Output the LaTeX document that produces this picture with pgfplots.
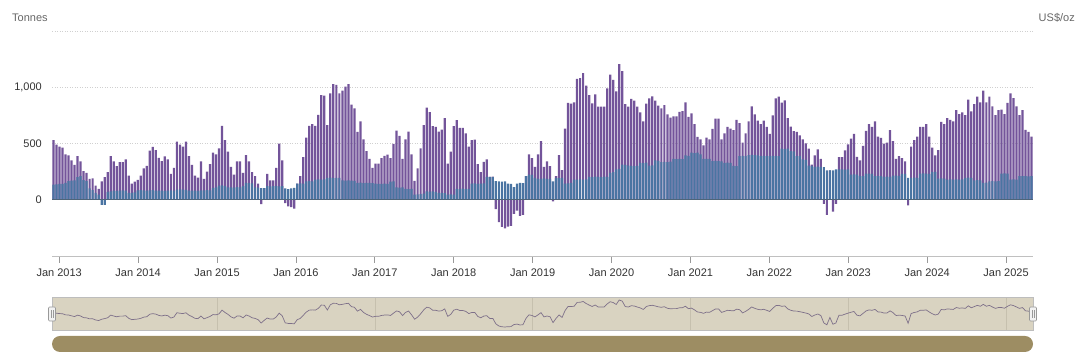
\documentclass[border=0pt]{standalone}
\usepackage{pgfplots}
\pgfplotsset{compat=1.18}
\usepackage{pgfplotstable}
\usepackage{fontspec}
\setmainfont{Liberation Sans}
\definecolor{purpleBar}{HTML}{73549A}
\definecolor{blueBar}{HTML}{4A74A2}
\definecolor{gridc}{HTML}{D0D0D0}
\definecolor{zeroc}{HTML}{4F6478}
\definecolor{labelc}{HTML}{333333}
\definecolor{tonnesc}{HTML}{666666}
\definecolor{tickc}{HTML}{999999}
\definecolor{axisc}{HTML}{C0C0C0}
\definecolor{navfill}{HTML}{D9D3C1}
\definecolor{navgrid}{HTML}{C6C0AE}
\definecolor{navborder}{HTML}{BDBDBD}
\definecolor{navline}{HTML}{7E7089}
\definecolor{scrollc}{HTML}{9D8D63}
\definecolor{handlefill}{HTML}{F2F2F2}
\definecolor{handledraw}{HTML}{999999}

\pgfplotstableread{
P B
531 134
490 136
472 140
463 140
403 150
394 165
349 170
310 172
388 200
340 209
254 175
239 165
185 100
191 85
125 60
96 45
164 -45
200 -45
245 70
388 75
340 80
299 78
334 80
334 84
358 82
215 60
143 62
161 65
176 84
215 85
278 84
301 80
436 84
469 86
442 80
373 82
343 80
385 78
358 80
230 84
284 82
516 90
490 92
472 90
516 88
388 80
310 82
215 80
197 78
340 84
185 84
251 85
316 84
418 104
403 110
457 125
657 128
531 120
427 110
293 110
224 108
340 112
340 110
239 120
397 150
340 148
245 145
209 110
143 108
-40 104
104 104
230 120
173 118
173 122
284 120
498 118
349 120
-30 100
-60 95
-66 100
-80 105
143 143
209 145
379 143
552 164
657 166
672 164
657 179
755 180
931 178
925 180
663 194
946 196
1027 192
1021 194
946 195
970 172
1006 170
1027 173
845 170
812 168
603 150
696 152
537 148
433 150
364 150
284 148
322 143
322 140
370 142
391 143
400 140
370 160
496 164
615 110
567 108
364 110
537 96
606 95
403 96
167 45
278 48
457 50
663 55
818 75
779 72
654 75
648 70
606 60
624 62
725 58
322 45
427 48
654 45
707 96
639 95
639 98
591 94
472 96
531 143
534 145
316 140
245 143
337 145
358 203
203 203
206 200
-84 165
-200 164
-242 160
-254 164
-239 143
-233 140
-125 113
-96 143
-143 150
-134 148
209 209
403 224
370 220
293 194
403 185
522 185
293 190
340 185
299 186
-15 164
209 194
397 192
263 194
633 143
860 145
854 150
866 179
1075 178
1081 180
1125 179
1015 182
931 203
857 200
937 205
827 203
827 200
827 205
991 203
1113 239
1066 245
964 269
1206 275
1143 313
851 310
827 304
896 300
881 299
827 300
776 328
696 325
854 330
901 304
919 306
881 349
836 345
812 334
842 336
758 334
731 338
740 364
740 360
782 364
788 362
866 394
737 390
767 418
672 415
558 418
537 403
484 364
552 364
537 364
630 343
722 345
722 343
537 340
591 328
648 330
633 328
618 300
710 299
681 388
507 390
591 388
696 397
830 398
758 397
704 395
672 388
704 390
648 388
585 388
749 390
901 388
916 388
863 454
884 450
725 454
650 433
609 430
603 388
573 388
537 358
500 355
454 304
313 300
394 293
448 295
364 293
-36 290
-134 260
262 262
-105 260
-36 269
379 270
379 269
439 268
493 270
543 224
585 226
382 224
349 209
478 210
612 233
672 233
648 230
696 209
561 210
549 209
498 203
507 205
618 203
522 215
364 215
388 212
370 230
340 230
-51 194
472 194
531 196
561 194
648 233
648 235
672 233
561 230
463 248
394 248
442 188
693 190
672 188
725 179
710 180
696 178
797 180
761 179
776 181
752 194
890 196
785 194
851 173
916 175
866 173
970 150
866 152
916 164
830 165
752 164
797 166
800 233
761 235
860 233
946 179
904 180
830 178
752 209
797 210
621 209
603 208
561 209
}\data

\begin{document}
\begin{tikzpicture}
\path[use as bounding box] (0pt,0pt) rectangle (1080pt,363pt);

\begin{axis}[
  at={(52pt,107pt)}, anchor=south west, scale only axis,
  width=981pt, height=225pt,
  xmin=-0.5, xmax=325.5, ymin=-500, ymax=1500,
  enlarge x limits=false,
  axis lines*=left,
  y axis line style={draw=none},
  x axis line style={draw=axisc, line width=0.8pt},
  ytick={0,500,1000,1500},
  yticklabels={0,500,{1,000},{}},
  ytick style={draw=none},
  xtick={1.9,28.12,54.34,80.56,106.78,133.0,159.22,185.44,211.66,237.88,264.1,290.32,316.54},
  xticklabels={Jan 2013,Jan 2014,Jan 2015,Jan 2016,Jan 2017,Jan 2018,Jan 2019,Jan 2020,Jan 2021,Jan 2022,Jan 2023,Jan 2024,Jan 2025},
  xtick style={draw=tickc, line width=0.8pt},
  tick align=outside,
  major tick length=7pt,
  ymajorgrids,
  grid style={draw=gridc, line width=0.6pt, dash pattern=on 1pt off 1.5pt},
  xticklabel style={text=labelc, font=\fontsize{11}{13}\selectfont, yshift=-2pt},
  yticklabel style={text=labelc, font=\fontsize{11}{13}\selectfont, inner sep=0pt, xshift=-3pt},
]
\addplot[ybar, bar width=0.74, bar shift=0pt, draw=none, fill=purpleBar]
  table[x expr=\coordindex, y=P]{\data};
\addplot[ybar, bar width=0.74, bar shift=0pt, draw=none, fill=blueBar]
  table[x expr=\coordindex, y=B]{\data};
\draw[zeroc, line width=0.8pt] (axis cs:-0.5,0) -- (axis cs:325.5,0);
\end{axis}

\begin{axis}[
  at={(52pt,33pt)}, anchor=south west, scale only axis,
  width=981pt, height=33pt,
  xmin=-0.5, xmax=325.5, ymin=-416, ymax=1368,
  axis background/.style={fill=navfill},
  axis line style={draw=navborder, line width=0.6pt},
  xtick={54.34,106.78,159.22,211.66,264.1,316.54},
  xticklabels={},
  ytick=\empty,
  major tick length=0pt,
  xmajorgrids,
  grid style={draw=navgrid, line width=0.5pt},
]
\addplot[navline, line width=0.7pt, mark=none] table[x expr=\coordindex, y=P]{\data};
\end{axis}

\foreach \xx in {52,1033} {
  \draw[fill=handlefill, draw=handledraw, line width=0.6pt, rounded corners=1pt] (\xx pt-3.5pt,42pt) rectangle (\xx pt+3.5pt,56pt);
  \draw[handledraw, line width=0.5pt] (\xx pt-1pt,45pt) -- (\xx pt-1pt,53pt);
  \draw[handledraw, line width=0.5pt] (\xx pt+1pt,45pt) -- (\xx pt+1pt,53pt);
}
\fill[scrollc, rounded corners=8pt] (52pt,11pt) rectangle (1033pt,27pt);

\node[anchor=west, text=tonnesc, inner sep=0pt, font=\fontsize{11}{13}\selectfont] at (12pt,345pt) {Tonnes};
\node[anchor=east, text=tonnesc, inner sep=0pt, font=\fontsize{11}{13}\selectfont] at (1075pt,345pt) {US\$/oz};
\end{tikzpicture}
\end{document}
